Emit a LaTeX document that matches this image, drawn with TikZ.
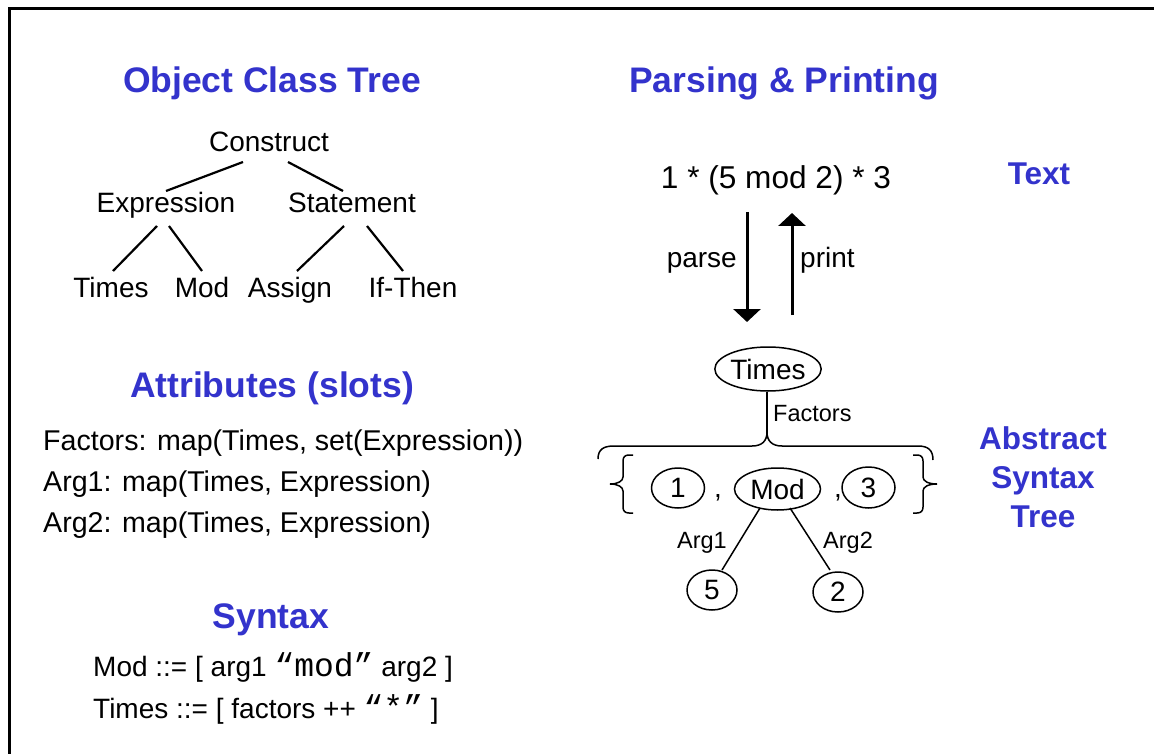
\documentclass[tikz,border=0pt]{standalone}
\usepackage{fontspec}
\setmainfont{Liberation Sans}
\newfontfamily\monof{Liberation Mono}
\usetikzlibrary{shapes.geometric,arrows.meta}
\definecolor{ttl}{RGB}{51,51,204}
\begin{document}
\begin{tikzpicture}[x=1pt,y=-1pt,
  txt/.style={inner sep=0pt, font=\fontsize{28}{34}\selectfont},
  attr/.style={inner sep=0pt, font=\fontsize{28.6}{34}\selectfont},
  small/.style={inner sep=0pt, font=\fontsize{23.5}{28}\selectfont},
  ttlbig/.style={inner sep=0pt, text=ttl, font=\fontsize{35.5}{40}\selectfont\bfseries},
  ttlside/.style={inner sep=0pt, text=ttl, font=\fontsize{31.5}{39}\selectfont\bfseries, align=center},
  treeline/.style={line width=2.2pt},
  astline/.style={line width=1.5pt},
  oval/.style={ellipse, draw, line width=1.5pt, inner sep=0pt, font=\fontsize{28}{34}\selectfont},
  flow/.style={line width=3pt, -{Triangle[width=27pt,length=13pt]}},
]
\useasboundingbox (0,0) rectangle (1154,754);
\fill[white] (0,0) rectangle (1154,754);
% frame
\draw[line width=3pt] (9.5,760) -- (9.5,8.5) -- (1160,8.5);

% ---------- Object Class Tree ----------
\node[ttlbig, anchor=base] (t1) at (272,93) {Object Class Tree};
\node[txt, anchor=base] (construct) at (269,152) {Construct};
\node[txt, anchor=base] (expr) at (166,213) {Expression};
\node[txt, anchor=base] (stmt) at (352,213) {Statement};
\node[txt, anchor=base] (ltimes) at (111,297) {Times};
\node[txt, anchor=base] (lmod) at (202,297) {Mod};
\node[txt, anchor=base] (assign) at (290,297) {Assign};
\node[txt, anchor=base] (ifthen) at (413,297) {If-Then};
\draw[treeline] ([shift={(-26,10)}]construct.base) -- ([shift={(0,-22)}]expr.base);
\draw[treeline] ([shift={(19,10)}]construct.base) -- ([shift={(-9,-22)}]stmt.base);
\draw[treeline] ([shift={(-9,13)}]expr.base) -- ([shift={(2,-26)}]ltimes.base);
\draw[treeline] ([shift={(3,13)}]expr.base) -- ([shift={(0,-26)}]lmod.base);
\draw[treeline] ([shift={(-8,13)}]stmt.base) -- ([shift={(7,-26)}]assign.base);
\draw[treeline] ([shift={(15,13)}]stmt.base) -- ([shift={(-10,-26)}]ifthen.base);

% ---------- Attributes ----------
\node[ttlbig, anchor=base] (t2) at (272,397) {Attributes (slots)};
\node[attr, anchor=base west] (a1) at (43,450) {Factors: map(Times, set(Expression))};
\node[attr, anchor=base west] (a2) at (43,491) {Arg1: map(Times, Expression)};
\node[attr, anchor=base west] (a3) at (43,532) {Arg2: map(Times, Expression)};

% ---------- Syntax ----------
\node[ttlbig, anchor=base] (t3) at (271,628) {Syntax};
\node[txt, anchor=base west] (s1) at (93,676) {Mod ::= [ arg1 {\monof\fontsize{33}{34}\selectfont “mod”} arg2 ]};
\node[txt, anchor=base west] (s2) at (93,718) {Times ::= [ factors ++ {\monof\fontsize{33}{34}\selectfont “*”} ]};

% ---------- Parsing & Printing ----------
\node[ttlbig, anchor=base] (t4) at (784,93) {Parsing \& Printing};
\node[inner sep=0pt, font=\fontsize{31.6}{36}\selectfont, anchor=base] (text) at (776,189) {1 * (5 mod 2) * 3};
\node[ttlside, anchor=base] (tlab) at (1039,185) {Text};

\node[oval, minimum width=104pt, minimum height=44pt] (times) at (768,369) {Times};
\draw[flow] ([shift={(-29,23)}]text.base) -- ([shift={(-21,-47)}]times.center);
\draw[flow] ([shift={(24,-54)}]times.center) -- ([shift={(16,24)}]text.base);
\node[txt, anchor=base east] (parse) at (737,268) {parse};
\node[txt, anchor=base west] (print) at (800,268) {print};

\coordinate (btip) at (767,432);
\draw[astline] ([xshift=-1pt]times.south) -- (btip);
\node[small, anchor=base west] (factors) at (773,421) {Factors};
% big brace
\draw[astline] (598,459) .. controls (598,449) and (604,446) .. (614,446) -- (752,446)
  .. controls (762,446) and (767,441) .. (btip)
  .. controls (767,441) and (772,446) .. (782,446) -- (918,446)
  .. controls (928,446) and (933,450) .. (933,460);
% small braces
\draw[astline] (633,455) -- (629,455) .. controls (625,455) and (623,457) .. (623,461) -- (623,477)
  .. controls (623,481) and (618,484) .. (610,484)
  .. controls (618,484) and (623,487) .. (623,491) -- (623,507)
  .. controls (623,511) and (625,513) .. (629,513) -- (633,513);
\draw[astline] (913,455) -- (917,455) .. controls (921,455) and (923,457) .. (923,461) -- (923,477)
  .. controls (923,481) and (928,484) .. (937,484)
  .. controls (928,484) and (923,487) .. (923,491) -- (923,507)
  .. controls (923,511) and (921,513) .. (917,513) -- (913,513);

\node[oval, minimum width=53pt, minimum height=40pt] (one) at (678,488) {1};
\node[txt, anchor=base] (c1) at (718,497) {,};
\node[oval, minimum width=86pt, minimum height=42pt] (mod) at (777.5,489) {Mod};
\node[txt, anchor=base] (c2) at (838,497) {,};
\node[oval, minimum width=53pt, minimum height=41pt] (three) at (868.5,487.5) {3};

\node[oval, minimum width=50pt, minimum height=40pt] (five) at (712,590) {5};
\node[oval, minimum width=50pt, minimum height=40pt] (two) at (838,592) {2};
\draw[astline] ([shift={(-17.5,19)}]mod.center) -- ([shift={(10,-20)}]five.center);
\draw[astline] ([shift={(12.5,19)}]mod.center) -- ([shift={(-8,-22)}]two.center);
\node[small, anchor=base east] (arg1) at (727,548) {Arg1};
\node[small, anchor=base west] (arg2) at (823,548) {Arg2};

\node[ttlside, anchor=base] (ast1) at (1043,449) {Abstract};
\node[ttlside, anchor=base] (ast2) at (1043,488) {Syntax};
\node[ttlside, anchor=base] (ast3) at (1043,527) {Tree};
\end{tikzpicture}
\end{document}
